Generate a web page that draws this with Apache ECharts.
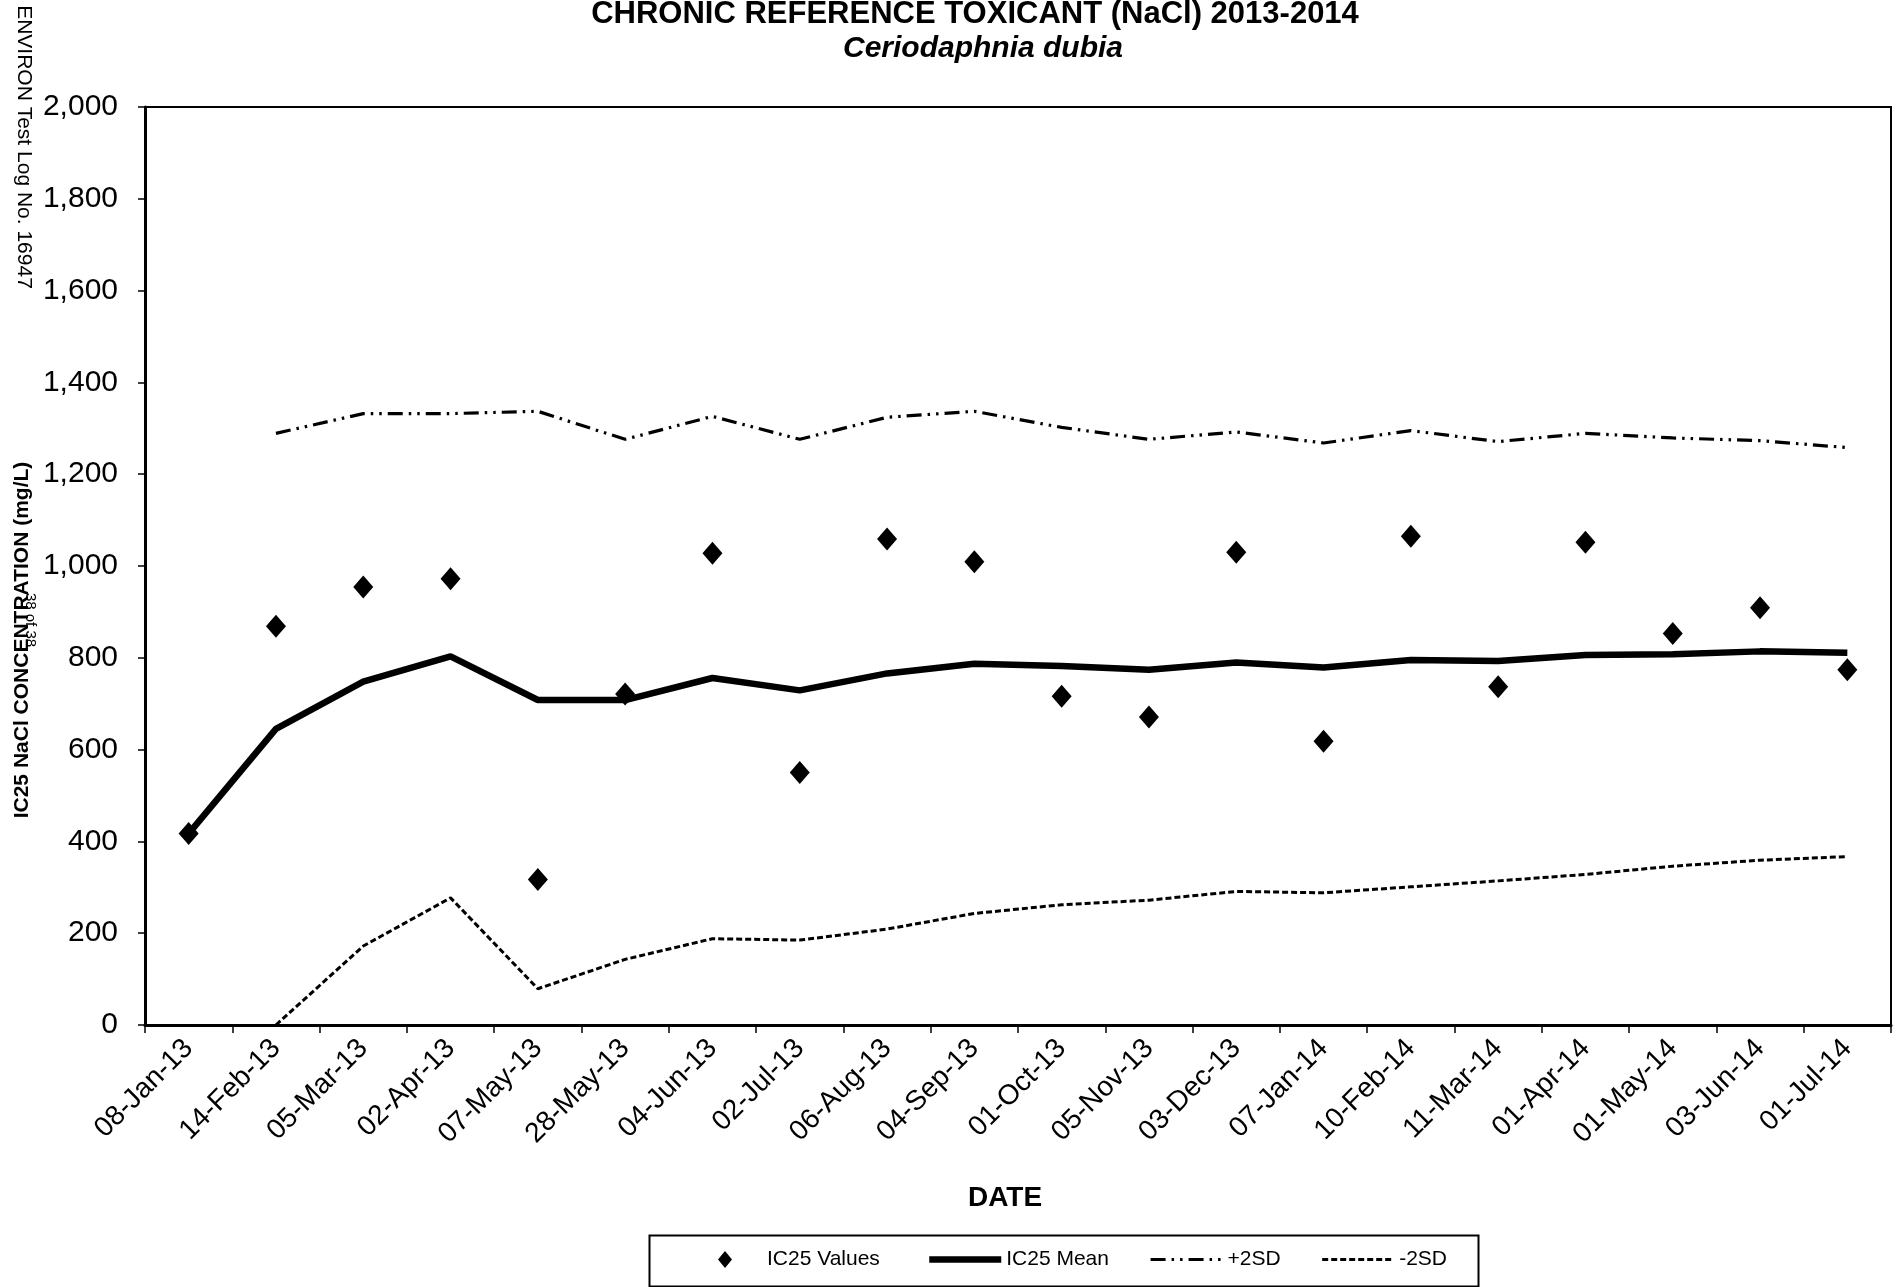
<!DOCTYPE html>
<html><head><meta charset="utf-8">
<script src="https://cdn.jsdelivr.net/npm/echarts@6/dist/echarts.min.js"></script>
<style>html,body{margin:0;padding:0;background:#fff}#c{width:1903px;height:1287px}</style>
</head><body><div id="c"></div>
<script>
const categories = ['08-Jan-13','14-Feb-13','05-Mar-13','02-Apr-13','07-May-13','28-May-13','04-Jun-13','02-Jul-13','06-Aug-13','04-Sep-13','01-Oct-13','05-Nov-13','03-Dec-13','07-Jan-14','10-Feb-14','11-Mar-14','01-Apr-14','01-May-14','03-Jun-14','01-Jul-14'];
const ic25Values = [417, 869, 954, 972, 317, 721, 1028, 550, 1059, 1009, 716, 671, 1030, 618, 1065, 737, 1052, 853, 909, 774];
const ic25Mean = [417, 645, 748, 803, 708, 708, 756, 729, 766, 787, 782, 774, 790, 779, 795, 793, 806, 808, 814, 811];
const plus2SD = [null, 1289, 1332, 1332, 1337, 1276, 1326, 1276, 1324, 1337, 1302, 1276, 1292, 1268, 1295, 1271, 1289, 1279, 1273, 1258];
const minus2SD = [null, 0, 172, 277, 79, 143, 188, 185, 209, 243, 262, 272, 291, 288, 301, 314, 328, 346, 359, 367];
const yMin = 0, yMax = 2000, yStep = 200;

const FF = "'Liberation Sans', Arial, sans-serif";
const meanStyle = {color: '#000', width: 6.5};
const plusStyle = {color: '#000', width: 3.2, type: [15, 6, 2.5, 6, 2.5, 6]};
const minusStyle = {color: '#000', width: 3, type: [6, 3]};
const chart = echarts.init(document.getElementById('c'), null, {renderer: 'canvas'});
chart.setOption({
  backgroundColor: '#fff',
  animation: false,
  textStyle: {fontFamily: FF, color: '#000'},
  grid: {left: 145, right: 12, top: 107, bottom: 262, show: true, borderColor: '#000', borderWidth: 2, backgroundColor: 'transparent'},
  xAxis: {
    type: 'category', data: categories, boundaryGap: true,
    axisLine: {lineStyle: {color: '#000', width: 3}},
    axisTick: {show: true, alignWithLabel: false, length: 8, lineStyle: {color: '#000', width: 1.5}},
    axisLabel: {rotate: 45, fontSize: 28, margin: 19, color: '#000', fontFamily: FF, interval: 0},
    splitLine: {show: false}
  },
  yAxis: {
    type: 'value', min: yMin, max: yMax, interval: yStep,
    axisLine: {show: true, lineStyle: {color: '#000', width: 3}},
    axisTick: {show: true, length: 7, lineStyle: {color: '#000', width: 1.5}},
    axisLabel: {fontSize: 30, margin: 27, color: '#000', fontFamily: FF,
      formatter: v => v.toString().replace(/\B(?=(\d{3})+(?!\d))/g, ',')},
    splitLine: {show: false}
  },
  legend: [
    {left: 718, top: 1249, padding: 0, itemWidth: 14, itemHeight: 17, itemGap: 40,
     data: [{name: 'IC25 Values', icon: 'diamond'}],
     textStyle: {fontSize: 21, fontFamily: FF, color: '#000', padding: [0,0,0,30]}},
    {left: 926, top: 1249, padding: 0, itemWidth: 72, itemHeight: 16, itemGap: 40,
     itemStyle: {opacity: 0},
     data: [
       {name: 'IC25 Mean', lineStyle: meanStyle},
       {name: '+2SD', lineStyle: plusStyle},
       {name: '-2SD', lineStyle: minusStyle}
     ],
     textStyle: {fontSize: 21, fontFamily: FF, color: '#000', padding: [0,0,0,0]}}
  ],
  graphic: [
    {type: 'rect', left: 647, top: 1233, shape: {width: 829, height: 51}, style: {fill: 'none', stroke: '#000', lineWidth: 2}},
    {type: 'text', x: 975, y: 14, style: {text: 'CHRONIC REFERENCE TOXICANT (NaCl) 2013-2014', font: "bold 31px 'Liberation Sans'", fill: '#000', textAlign: 'center', textVerticalAlign: 'middle'}},
    {type: 'text', x: 983, y: 49, style: {text: 'Ceriodaphnia dubia', font: "italic bold 30px 'Liberation Sans'", fill: '#000', textAlign: 'center', textVerticalAlign: 'middle'}},
    {type: 'text', x: 1005, y: 1198, style: {text: 'DATE', font: "bold 28px 'Liberation Sans'", fill: '#000', textAlign: 'center', textVerticalAlign: 'middle'}},
    {type: 'text', x: 22, y: 640, rotation: Math.PI/2, style: {text: 'IC25 NaCl CONCENTRATION (mg/L)', font: "bold 21px 'Liberation Sans'", fill: '#000', textAlign: 'center', textVerticalAlign: 'middle'}},
    {type: 'text', x: 24, y: 147, rotation: -Math.PI/2, style: {text: 'ENVIRON Test Log No. 16947', font: "21px 'Liberation Sans'", fill: '#000', textAlign: 'center', textVerticalAlign: 'middle'}},
    {type: 'text', x: 30, y: 620, rotation: -Math.PI/2, style: {text: '38 of 38', font: "15px 'Liberation Sans'", fill: '#000', textAlign: 'center', textVerticalAlign: 'middle'}}
  ],
  series: [
    {name: '-2SD', type: 'line', data: minus2SD, symbol: 'none', connectNulls: false,
     lineStyle: minusStyle, itemStyle: {color: '#000'}, z: 2},
    {name: '+2SD', type: 'line', data: plus2SD, symbol: 'none',
     lineStyle: plusStyle, itemStyle: {color: '#000'}, z: 2},
    {name: 'IC25 Mean', type: 'line', data: ic25Mean, symbol: 'none',
     lineStyle: meanStyle, itemStyle: {color: '#000'}, z: 3},
    {name: 'IC25 Values', type: 'scatter', data: ic25Values, symbol: 'diamond', symbolSize: [20, 23],
     itemStyle: {color: '#000', opacity: 1}, z: 4}
  ]
});
</script></body></html>
